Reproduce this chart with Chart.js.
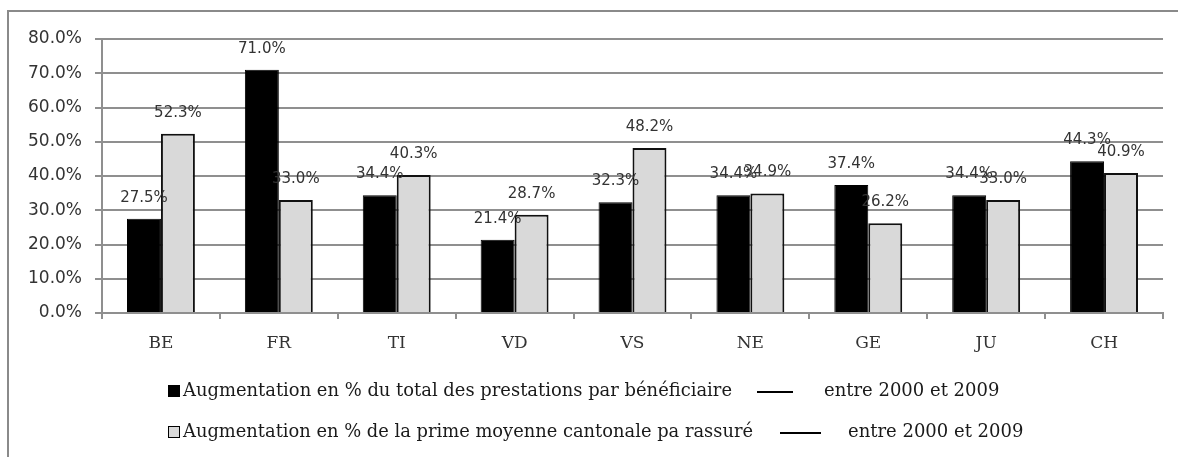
<!DOCTYPE html>
<html>
<head>
<meta charset="utf-8">
<script src="https://cdn.jsdelivr.net/npm/chart.js@4"></script>
<style>
  html, body { margin: 0; padding: 0; background: #fff; overflow: hidden; }
  #wrap { width: 1178px; height: 457px; position: relative; }
</style>
</head>
<body>
<div id="wrap"><canvas id="chart"></canvas></div>
<script>
// cantons
const categories = ['BE', 'FR', 'TI', 'VD', 'VS', 'NE', 'GE', 'JU', 'CH'];
// % increase of total benefits per beneficiary, 2000-2009
const prestations = [27.5, 71.0, 34.4, 21.4, 32.3, 34.4, 37.4, 34.4, 44.3];
// % increase of average cantonal premium per insured, 2000-2009
const primes = [52.3, 33.0, 40.3, 28.7, 48.2, 34.9, 26.2, 33.0, 40.9];
const legendLabels = [
  'Augmentation en % du total des prestations par bénéficiaire',
  'Augmentation en % de la prime moyenne cantonale pa rassuré'
];
const legendPeriod = 'entre 2000 et 2009';

const gridGray = '#8f8f8f';
const textDark = '#333';

// value labels above each bar
const valueLabels = {
  id: 'valueLabels',
  afterDatasetsDraw(chart) {
    const ctx = chart.ctx;
    ctx.save();
    ctx.font = '15px "DejaVu Sans"';
    ctx.fillStyle = textDark;
    ctx.textAlign = 'center';
    ctx.textBaseline = 'middle';
    chart.data.datasets.forEach((ds, i) => {
      chart.getDatasetMeta(i).data.forEach((bar, j) => {
        ctx.fillText(ds.data[j].toFixed(1) + '%', bar.x, bar.y - 21);
      });
    });
    ctx.restore();
  }
};

// frame + legend with the "entre 2000 et 2009" suffix
const frameLegend = {
  id: 'frameLegend',
  afterDraw(chart) {
    const ctx = chart.ctx;
    ctx.save();
    ctx.strokeStyle = '#8a8a8a';
    ctx.lineWidth = 2;
    ctx.beginPath();
    ctx.moveTo(8, chart.height);
    ctx.lineTo(8, 11);
    ctx.lineTo(chart.width, 11);
    ctx.stroke();

    const rows = [
      { y: 391, fill: '#000', text: legendLabels[0], textEnd: 732, line: [757, 793], period: 824 },
      { y: 432, fill: '#d9d9d9', text: legendLabels[1], textEnd: 753, line: [780, 821], period: 848 }
    ];
    ctx.font = '18px "DejaVu Serif"';
    ctx.textBaseline = 'middle';
    ctx.textAlign = 'left';
    rows.forEach(r => {
      ctx.fillStyle = r.fill;
      ctx.fillRect(168, r.y - 6, 12, 12);
      ctx.strokeStyle = '#000';
      ctx.lineWidth = 1;
      ctx.strokeRect(168.5, r.y - 5.5, 11, 11);
      ctx.fillStyle = '#1a1a1a';
      ctx.fillText(r.text, 183, r.y, r.textEnd - 183);
      ctx.lineWidth = 2;
      ctx.beginPath();
      ctx.moveTo(r.line[0], r.y + 1);
      ctx.lineTo(r.line[1], r.y + 1);
      ctx.stroke();
      ctx.fillText(legendPeriod, r.period, r.y);
    });
    ctx.restore();
  }
};

new Chart(document.getElementById('chart'), {
  type: 'bar',
  data: {
    labels: categories,
    datasets: [{
      label: legendLabels[0],
      data: prestations,
      backgroundColor: '#000',
      borderColor: '#000',
      borderWidth: 1
    }, {
      label: legendLabels[1],
      data: primes,
      backgroundColor: '#d9d9d9',
      borderColor: '#111',
      borderWidth: 2
    }]
  },
  options: {
    responsive: true,
    maintainAspectRatio: false,
    animation: false,
    categoryPercentage: 0.576,
    barPercentage: 1,
    layout: { padding: { left: 0, right: 15, top: 39, bottom: 0 } },
    plugins: {
      legend: { display: false },
      tooltip: { enabled: false }
    },
    scales: {
      x: {
        grid: {
          drawOnChartArea: false,
          offset: true,
          tickLength: 6,
          color: gridGray,
          lineWidth: 2
        },
        border: { color: gridGray, width: 2 },
        ticks: {
          padding: 14,
          color: textDark,
          font: { family: '"DejaVu Serif"', size: 17 }
        },
        afterFit(scale) { scale.height = 457 - 313; }
      },
      y: {
        min: 0,
        max: 80,
        ticks: {
          stepSize: 10,
          padding: 13,
          color: textDark,
          font: { family: '"DejaVu Sans"', size: 17 },
          callback: v => v.toFixed(1) + '%'
        },
        grid: { color: gridGray, lineWidth: 2, tickLength: 7 },
        border: { color: gridGray, width: 2 },
        afterFit(scale) { scale.width = 102; }
      }
    }
  },
  plugins: [valueLabels, frameLegend]
});
</script>
</body>
</html>
